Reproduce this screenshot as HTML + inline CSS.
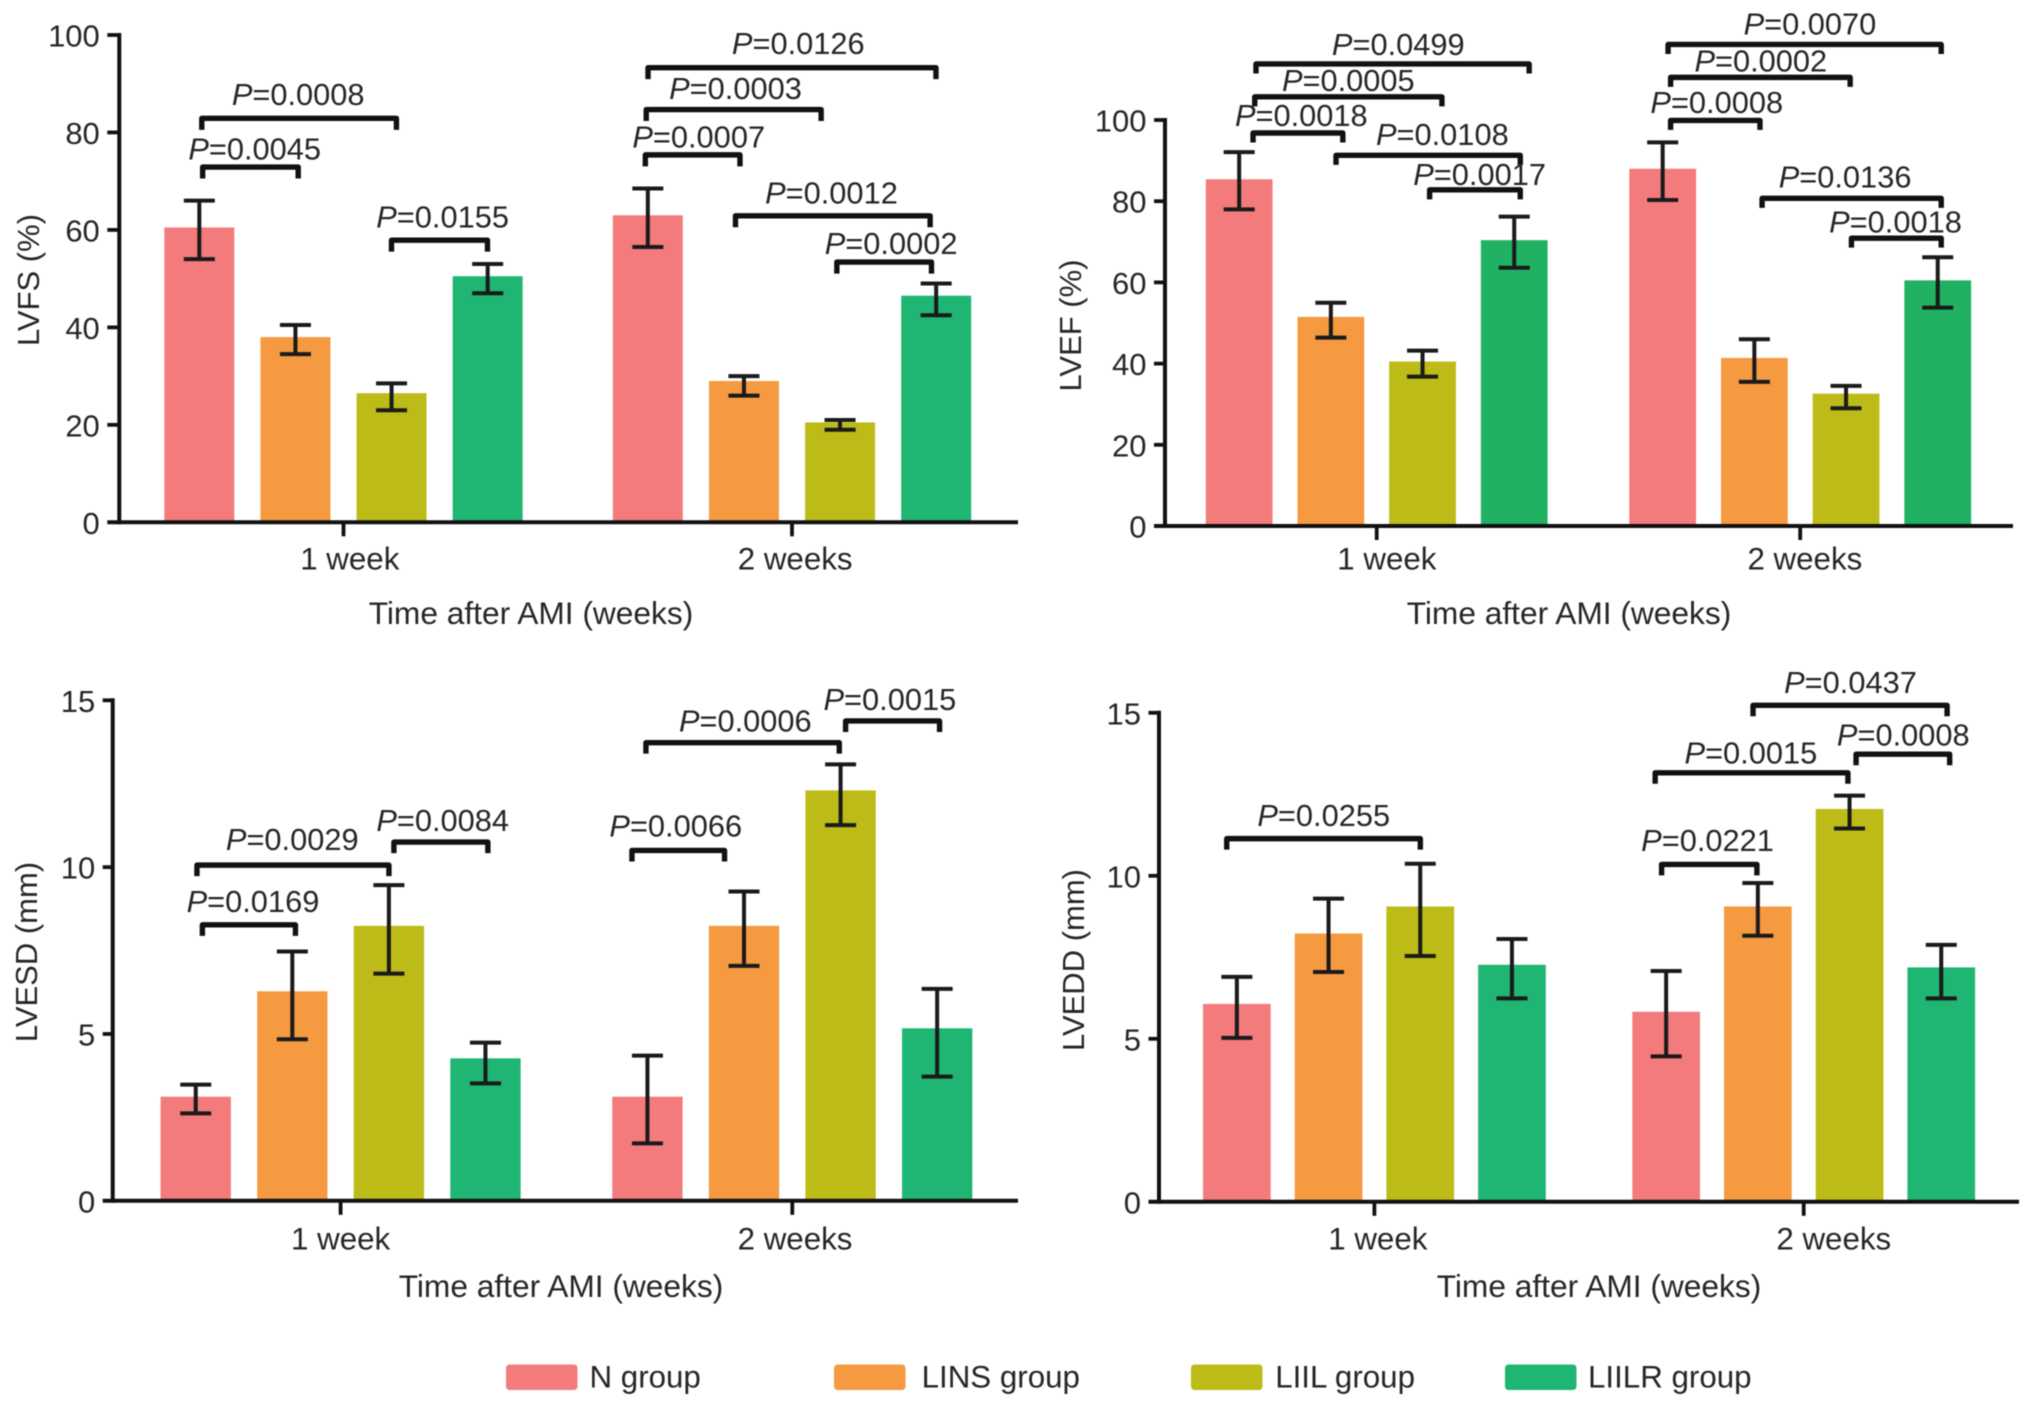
<!DOCTYPE html>
<html lang="en">
<head>
<meta charset="utf-8">
<title>Cardiac function after AMI</title>
<style>
html,body{margin:0;padding:0;background:#fff;width:2032px;height:1407px;overflow:hidden}
svg{display:block;filter:blur(0.6px)}
text{font-family:"Liberation Sans",Arial,sans-serif;fill:#262626}
</style>
</head>
<body>
<svg id="figure" xmlns="http://www.w3.org/2000/svg" width="2032" height="1407" viewBox="0 0 2032 1407"></svg>
<script>
const categories = ['1 week', '2 weeks'];
const seriesNames = ['N group', 'LINS group', 'LIIL group', 'LIILR group'];

const lvfsTicks = [0, 20, 40, 60, 80, 100];
const lvfsValues = [[60.5, 38, 26.5, 50.5], [63, 29, 20.5, 46.5]];
const lvfsHigh = [[66, 40.5, 28.5, 53], [68.5, 30, 21, 49]];
const lvfsLow = [[54, 34.5, 23, 47], [56.5, 26, 19, 42.5]];
const lvfsPLabels = ['0.0045', '0.0008', '0.0155', '0.0126', '0.0003', '0.0007', '0.0012', '0.0002'];
const lvfsPFrom = [-0.314, -0.316, 0.107, 0.679, 0.675, 0.673, 0.874, 1.100];
const lvfsPTo = [-0.101, 0.118, 0.321, 1.321, 1.065, 0.884, 1.308, 1.311];
const lvfsPMid = [-0.198, -0.101, 0.221, 1.014, 0.874, 0.792, 1.088, 1.221];
const lvfsPLevel = [72.9, 82.9, 57.9, 93.3, 84.7, 75.4, 62.9, 53.4];
const lvfsPText = [74.5, 85.6, 60.5, 96.1, 86.9, 76.9, 65.4, 55.1];

const lvefTicks = [0, 20, 40, 60, 80, 100];
const lvefValues = [[85.4, 51.5, 40.5, 70.4], [88, 41.4, 32.6, 60.5]];
const lvefHigh = [[92.1, 55, 43.2, 76.2], [94.5, 46, 34.5, 66.2]];
const lvefLow = [[78, 46.4, 36.8, 63.6], [80.3, 35.5, 29, 53.8]];
const lvefPLabels = ['0.0018', '0.0005', '0.0499', '0.0108', '0.0017', '0.0070', '0.0002', '0.0008', '0.0136', '0.0018'];
const lvefPFrom = [-0.292, -0.288, -0.285, -0.096, 0.125, 0.688, 0.694, 0.694, 0.910, 1.121];
const lvefPTo = [-0.080, 0.154, 0.360, 0.339, 0.339, 1.333, 1.118, 0.905, 1.333, 1.333];
const lvefPMid = [-0.178, -0.067, 0.051, 0.155, 0.243, 1.023, 0.907, 0.803, 1.106, 1.225];
const lvefPLevel = [96.8, 105.7, 113.8, 91.3, 82.8, 118.6, 110.5, 99.9, 80.7, 70.9];
const lvefPText = [98.5, 107.2, 116, 93.8, 84, 121, 112, 101.7, 83.4, 72.3];

const lvesdTicks = [0, 5, 10, 15];
const lvesdValues = [[3.12, 6.28, 8.24, 4.27], [3.12, 8.24, 12.3, 5.17]];
const lvesdHigh = [[3.48, 7.47, 9.46, 4.74], [4.35, 9.27, 13.08, 6.35]];
const lvesdLow = [[2.62, 4.84, 6.81, 3.52], [1.72, 7.04, 11.26, 3.72]];
const lvesdPLabels = ['0.0169', '0.0029', '0.0084', '0.0066', '0.0006', '0.0015'];
const lvesdPFrom = [-0.306, -0.318, 0.118, 0.645, 0.676, 1.118];
const lvesdPTo = [-0.100, 0.107, 0.326, 0.850, 1.104, 1.326];
const lvesdPMid = [-0.194, -0.107, 0.226, 0.742, 0.896, 1.216];
const lvesdPLevel = [8.27, 10.06, 10.75, 10.5, 13.73, 14.38];
const lvesdPText = [8.66, 10.52, 11.09, 10.92, 14.07, 14.71];

const lveddTicks = [0, 5, 10, 15];
const lveddValues = [[6.07, 8.23, 9.06, 7.27], [5.83, 9.06, 12.05, 7.19]];
const lveddHigh = [[6.9, 9.3, 10.37, 8.06], [7.08, 9.78, 12.46, 7.88]];
const lveddLow = [[5.03, 7.05, 7.54, 6.24], [4.46, 8.16, 11.45, 6.24]];
const lveddPLabels = ['0.0255', '0.0221', '0.0015', '0.0008', '0.0437'];
const lveddPFrom = [-0.344, 0.669, 0.654, 1.122, 0.882];
const lveddPTo = [0.107, 0.891, 1.103, 1.340, 1.334];
const lveddPMid = [-0.118, 0.776, 0.877, 1.232, 1.109];
const lveddPLevel = [11.14, 10.35, 13.16, 13.73, 15.23];
const lveddPText = [11.52, 10.76, 13.45, 14.0, 15.61];

const barColors = ['#F47B7B', '#F59A40', '#BDBB17', '#1FB573'];
const lvefBarColors = ['#F47B7B', '#F59A40', '#BDBB17', '#20B262'];
const svg = document.getElementById('figure');
const NS = 'http://www.w3.org/2000/svg';

function make(parent, tag, attrs, content) {
  const el = document.createElementNS(NS, tag);
  for (const k in attrs) el.setAttribute(k, attrs[k]);
  if (content !== undefined) el.textContent = content;
  parent.appendChild(el);
  return el;
}

function drawPanel(p) {
  const g = make(svg, 'g', {});
  
  
  const xs = c => p.cx1 + c * (p.cx2 - p.cx1);
  const ys = v => p.y0 - v * (p.y0 - p.yMax) / p.axisMax;
  const barW = p.barWidth * (p.cx2 - p.cx1);

  // bars
  p.values.forEach((row, gi) => {
    row.forEach((v, si) => {
      const c = gi + (si - 1.5) * p.step;
      const bar = make(g, 'rect', {
        x: xs(c) - barW / 2, y: ys(v), width: barW, height: p.y0 - ys(v), fill: p.colors[si]
      });
      
      
    });
  });

  // error bars
  p.values.forEach((row, gi) => {
    row.forEach((v, si) => {
      const x = xs(gi + (si - 1.5) * p.step);
      const hi = ys(p.high[gi][si]);
      const lo = ys(p.low[gi][si]);
      const d = 'M' + x + ' ' + hi + 'V' + lo +
        'M' + (x - 15.5) + ' ' + hi + 'H' + (x + 15.5) +
        'M' + (x - 15.5) + ' ' + lo + 'H' + (x + 15.5);
      const err = make(g, 'path', { d: d, fill: 'none', stroke: '#1a1a1a', 'stroke-width': 4 });
      
      
    });
  });

  // axes
  const yAxis = make(g, 'line', { x1: p.axisX, x2: p.axisX, y1: p.yMax - 2, y2: p.y0 + 2, stroke: '#111', 'stroke-width': 4 });
  
  
  const xAxis = make(g, 'line', { x1: p.axisX - p.tickLen, x2: p.xEnd, y1: p.y0, y2: p.y0, stroke: '#111', 'stroke-width': 4 });
  
  

  p.ticks.forEach(t => {
    if (t !== 0) {
      const tick = make(g, 'line', { x1: p.axisX - p.tickLen, x2: p.axisX, y1: ys(t), y2: ys(t), stroke: '#111', 'stroke-width': 3.8 });
      
      
    }
    const lab = make(g, 'text', { x: p.axisX - p.tickLen - 7.5, y: ys(t) + 11.5, 'text-anchor': 'end', 'font-size': 31 }, String(t));
    
    
  });

  categories.forEach((cat, i) => {
    const tick = make(g, 'line', { x1: xs(i), x2: xs(i), y1: p.y0, y2: p.y0 + 14, stroke: '#111', 'stroke-width': 3.8 });
    
    
    const lab = make(g, 'text', { x: xs(p.catLabelAt[i]), y: p.catBaseline, 'text-anchor': 'middle', 'font-size': 31.3 }, cat);
    
    
  });

  const xTitle = make(g, 'text', { x: p.xTitleX, y: p.xTitleY, 'text-anchor': 'middle', 'font-size': 31.7 }, 'Time after AMI (weeks)');
  
  

  const yTitle = make(g, 'text', {
    x: 0, y: 0, 'text-anchor': 'middle', 'font-size': 31,
    transform: 'translate(' + p.yTitleX + ' ' + p.yTitleY + ') rotate(-90)'
  }, p.title);
  
  

  // significance brackets
  p.pLabels.forEach((lbl, i) => {
    const x1 = xs(p.pFrom[i]);
    const x2 = xs(p.pTo[i]);
    const y = ys(p.pLevel[i]);
    const leg = p.leg;
    const br = make(g, 'path', {
      d: 'M' + x1 + ' ' + (y + leg) + 'V' + y + 'H' + x2 + 'V' + (y + leg),
      fill: 'none', stroke: '#111', 'stroke-width': 5.4, 'stroke-linejoin': 'round'
    });
    
    
    const t = make(g, 'text', { x: xs(p.pMid[i]), y: ys(p.pText[i]), 'text-anchor': 'middle', 'font-size': 30.8 });
    
    
    make(t, 'tspan', { 'font-style': 'italic' }, 'P');
    make(t, 'tspan', {}, '=' + lbl);
  });
}

const panels = [
  { key: 'lvfs', title: 'LVFS (%)', colors: barColors, values: lvfsValues, high: lvfsHigh, low: lvfsLow, ticks: lvfsTicks,
    pLabels: lvfsPLabels, pFrom: lvfsPFrom, pTo: lvfsPTo, pMid: lvfsPMid, pLevel: lvfsPLevel, pText: lvfsPText,
    axisMax: 100, axisX: 119.3, yMax: 35, y0: 522.3, xEnd: 1018, tickLen: 12, cx1: 343.5, cx2: 792,
    step: 0.2143, barWidth: 0.156, leg: 11.5, catLabelAt: [0.014, 1.007], catBaseline: 569.5,
    xTitleX: 531, xTitleY: 624, yTitleX: 39, yTitleY: 280 },
  { key: 'lvef', title: 'LVEF (%)', colors: lvefBarColors, values: lvefValues, high: lvefHigh, low: lvefLow, ticks: lvefTicks,
    pLabels: lvefPLabels, pFrom: lvefPFrom, pTo: lvefPTo, pMid: lvefPMid, pLevel: lvefPLevel, pText: lvefPText,
    axisMax: 100, axisX: 1165, yMax: 120, y0: 526, xEnd: 2013, tickLen: 11, cx1: 1376.7, cx2: 1800.2,
    step: 0.2165, barWidth: 0.1576, leg: 9.5, catLabelAt: [0.024, 1.011], catBaseline: 569.5,
    xTitleX: 1569, xTitleY: 624, yTitleX: 1081, yTitleY: 325.5 },
  { key: 'lvesd', title: 'LVESD (mm)', colors: barColors, values: lvesdValues, high: lvesdHigh, low: lvesdLow, ticks: lvesdTicks,
    pLabels: lvesdPLabels, pFrom: lvesdPFrom, pTo: lvesdPTo, pMid: lvesdPMid, pLevel: lvesdPLevel, pText: lvesdPText,
    axisMax: 15, axisX: 112.7, yMax: 700.3, y0: 1200.8, xEnd: 1018, tickLen: 10, cx1: 340.6, cx2: 792.3,
    step: 0.2138, barWidth: 0.1557, leg: 11, catLabelAt: [0, 1.006], catBaseline: 1249.5,
    xTitleX: 561, xTitleY: 1297, yTitleX: 37, yTitleY: 952 },
  { key: 'lvedd', title: 'LVEDD (mm)', colors: barColors, values: lveddValues, high: lveddHigh, low: lveddLow, ticks: lveddTicks,
    pLabels: lveddPLabels, pFrom: lveddPFrom, pTo: lveddPTo, pMid: lveddPMid, pLevel: lveddPLevel, pText: lveddPText,
    axisMax: 15, axisX: 1159, yMax: 712.8, y0: 1201.8, xEnd: 2019, tickLen: 10.5, cx1: 1374.4, cx2: 1803.7,
    step: 0.2136, barWidth: 0.1577, leg: 11, catLabelAt: [0.008, 1.07], catBaseline: 1249.5,
    xTitleX: 1599, xTitleY: 1297, yTitleX: 1084, yTitleY: 960 }
];
panels.forEach(drawPanel);

// legend
const legend = make(svg, 'g', {});


const legendBoxLeft = [506, 834, 1191, 1505];
const legendTextLeft = [589.5, 921.6, 1275.2, 1588];
seriesNames.forEach((name, i) => {
  const box = make(legend, 'rect', { x: legendBoxLeft[i], y: 1364.5, width: 71.5, height: 25.5, rx: 3.5, fill: barColors[i] });
  
  
  const txt = make(legend, 'text', { x: legendTextLeft[i], y: 1387.5, 'font-size': 31.3 }, name);
  
  
});
</script>
</body>
</html>
